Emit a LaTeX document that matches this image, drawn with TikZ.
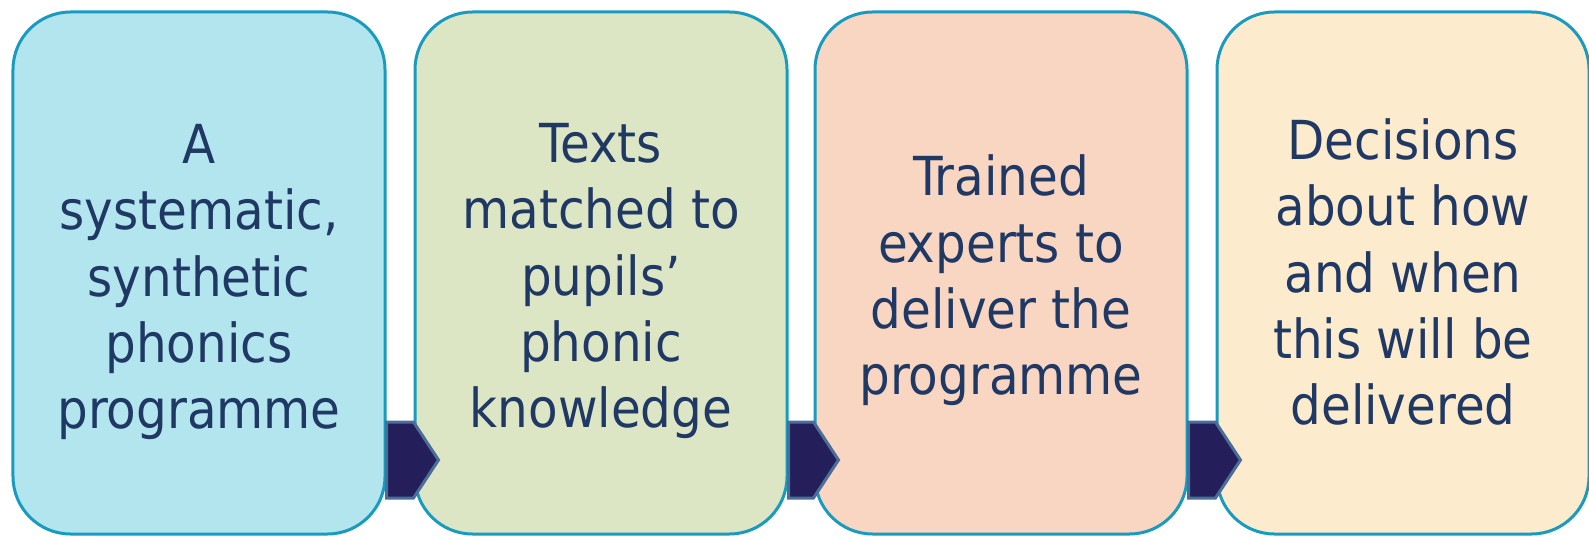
\documentclass[tikz,border=0pt]{standalone}
\usepackage{fontspec}
\setmainfont{DejaVu Sans Condensed}
\usetikzlibrary{calc}
\definecolor{phblue}{RGB}{179,229,239}
\definecolor{phgreen}{RGB}{220,230,197}
\definecolor{phpeach}{RGB}{248,214,194}
\definecolor{phcream}{RGB}{253,235,205}
\definecolor{phedge}{RGB}{24,155,190}
\definecolor{phtext}{RGB}{31,56,100}
\definecolor{phnavy}{RGB}{36,31,90}
\definecolor{phsteel}{RGB}{75,110,152}
\begin{document}
\begin{tikzpicture}[
  stagebox/.style={draw=phedge, line width=0.06cm, rounded corners=1.15cm,
              minimum width=7.44cm, minimum height=10.44cm, inner sep=0pt},
  stagetext/.style={text=phtext, align=center, inner sep=0pt,
              font=\fontsize{30.6pt}{37.8pt}\selectfont},
  chev/.style={draw=phsteel, line width=0.06cm, fill=phnavy, line join=miter}
]
  \useasboundingbox (0,0) rectangle (31.78,-10.74);
  %% Boxes
  \node[stagebox, fill=phblue]  (prog)  at (3.98,-5.46)  {};
  \node[stagebox, fill=phgreen] (texts) at (12.02,-5.46) {};
  \node[stagebox, fill=phpeach] (staff) at (20.02,-5.46) {};
  \node[stagebox, fill=phcream] (plan)  at (28.06,-5.46) {};

  %% Box texts (a little below the centre)
  \node[stagetext] (progtext)  at ($(prog.center)+(0,-0.18)$)  {A\\systematic,\\synthetic\\phonics\\programme};
  \node[stagetext] (textstext) at ($(texts.center)+(0,-0.16)$) {Texts\\matched to\\pupils’\\phonic\\knowledge};
  \node[stagetext] (stafftext) at ($(staff.center)+(0,-0.15)$) {Trained\\experts to\\deliver the\\programme};
  \node[stagetext] (plantext)  at ($(plan.center)+(0,0.02)$)   {Decisions\\about how\\and when\\this will be\\delivered};

  %% Chevrons
  \coordinate (ctop) at (0,-8.44);
  \coordinate (cmid) at (0,-9.20);
  \coordinate (cbot) at (0,-9.96);
  \foreach \a/\b in {prog/texts, texts/staff, staff/plan}{
    \draw[chev] (\a.east |- ctop) -- (\b.west |- ctop)
      -- ($(\b.west |- cmid)+(0.5,0)$) -- (\b.west |- cbot)
      -- (\a.east |- cbot) -- cycle;
  }
\end{tikzpicture}
\end{document}
